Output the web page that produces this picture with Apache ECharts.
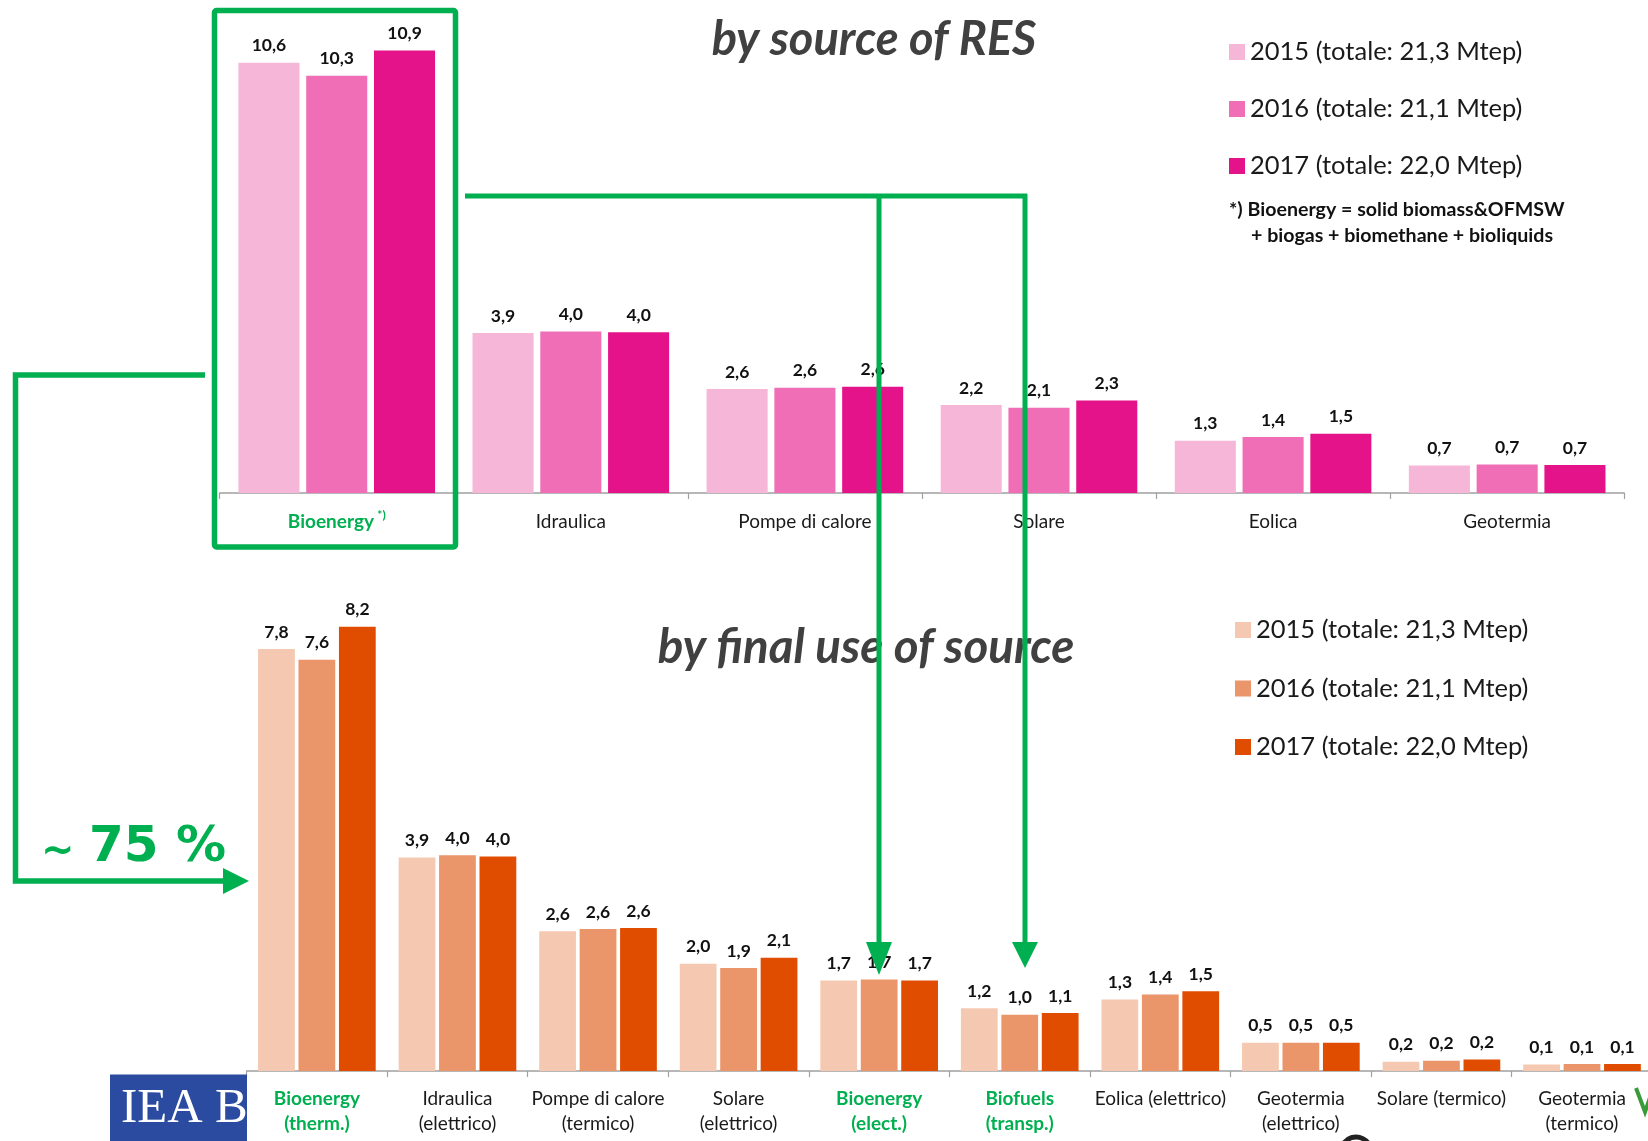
<!DOCTYPE html>
<html><head><meta charset="utf-8">
<script src="https://cdn.jsdelivr.net/npm/echarts@6/dist/echarts.min.js"></script>
<style>html,body{margin:0;padding:0;background:#fff}#c{width:1648px;height:1141px}</style>
</head><body><div id="c"></div>
<script>
// ---- data (Mtep) ----
const sourceCategories = ['Bioenergy', 'Idraulica', 'Pompe di calore', 'Solare', 'Eolica', 'Geotermia'];
const source2015 = [10.6, 3.94, 2.56, 2.17, 1.29, 0.68];
const source2016 = [10.28, 3.98, 2.59, 2.10, 1.38, 0.70];
const source2017 = [10.9, 3.96, 2.62, 2.28, 1.46, 0.69];

const useCategories = ['Bioenergy\n(therm.)', 'Idraulica\n(elettrico)', 'Pompe di calore\n(termico)', 'Solare\n(elettrico)', 'Bioenergy\n(elect.)', 'Biofuels\n(transp.)', 'Eolica (elettrico)', 'Geotermia\n(elettrico)', 'Solare (termico)', 'Geotermia\n(termico)'];
const use2015 = [7.79, 3.94, 2.58, 1.98, 1.67, 1.16, 1.32, 0.52, 0.17, 0.12];
const use2016 = [7.59, 3.98, 2.62, 1.90, 1.69, 1.04, 1.41, 0.52, 0.19, 0.13];
const use2017 = [8.2, 3.96, 2.64, 2.09, 1.67, 1.07, 1.47, 0.52, 0.21, 0.13];

const yearNames = ['2015 (totale: 21,3 Mtep)', '2016 (totale: 21,1 Mtep)', '2017 (totale: 22,0 Mtep)'];
const greenCategories = ['Bioenergy', 'Bioenergy\n(therm.)', 'Bioenergy\n(elect.)', 'Biofuels\n(transp.)'];

const topTitle = 'by source of RES';
const bottomTitle = 'by final use of source';
const footnote = ['*) Bioenergy = solid biomass&OFMSW', '+ biogas + biomethane + bioliquids'];
const shareText = '75 %';

// ---- styles ----
const pinkColors = ['#F5B6D8', '#EF6EB6', '#E4138A'];
const orangeColors = ['#F5C9B1', '#EB956A', '#E04D01'];
const GREEN = '#00B050';
const FONT = 'Lato';

const fmt = p => p.value.toFixed(1).replace('.', ',');
const valueLabel = {show: true, position: 'top', distance: 8, formatter: fmt, fontFamily: FONT, fontWeight: 'bold', fontSize: 17.5, color: '#111'};

function bar(name, data, color, idx, gap, catGap) {
  return {type: 'bar', name, data, xAxisIndex: idx, yAxisIndex: idx, barGap: gap, barCategoryGap: catGap,
    itemStyle: {color}, label: valueLabel, emphasis: {disabled: true}, silent: true};
}

const axisCommon = {
  axisLine: {lineStyle: {color: '#A0A0A0', width: 1.5}},
  axisTick: {show: true, length: 6, lineStyle: {color: '#A0A0A0', width: 1.2}},
};

const richBase = {
  g: {color: GREEN, fontWeight: 'bold', fontSize: 19, fontFamily: FONT, lineHeight: 25},
  n: {color: '#1a1a1a', fontSize: 19, fontFamily: FONT, lineHeight: 25},
  s: {color: GREEN, fontWeight: 'bold', fontSize: 12, fontFamily: FONT, verticalAlign: 'top', lineHeight: 12}
};

const option = {
  backgroundColor: '#fff',
  animation: false,
  grid: [
    {left: 219.7, top: 5.8, width: 1404.5, height: 487.2, outerBoundsMode: 'none', containLabel: false},
    {left: 246.6, top: 583.4, width: 1405.7, height: 487.6, outerBoundsMode: 'none', containLabel: false}
  ],
  xAxis: [
    Object.assign({type: 'category', gridIndex: 0, data: sourceCategories,
      axisLabel: {interval: 0, margin: 16, rich: richBase,
        formatter: v => greenCategories.includes(v) ? '{g|' + v + '} {s|*)}' : '{n|' + v + '}'}}, axisCommon),
    Object.assign({type: 'category', gridIndex: 1, data: useCategories,
      axisLabel: {interval: 0, margin: 15, rich: richBase,
        formatter: v => v.split('\n').map(l => '{' + (greenCategories.includes(v) ? 'g' : 'n') + '|' + l + '}').join('\n')}}, axisCommon)
  ],
  yAxis: [
    {type: 'value', gridIndex: 0, min: 0, max: 12, show: false},
    {type: 'value', gridIndex: 1, min: 0, max: 9, show: false}
  ],
  legend: [
    {data: yearNames, orient: 'vertical', left: 1224, top: 34, itemWidth: 16, itemHeight: 16, itemGap: 31,
      icon: 'rect', selectedMode: false, formatter: n => n.trim(),
      textStyle: {fontFamily: FONT, fontSize: 25.5, color: '#1a1a1a'}},
    {data: yearNames.map(n => n + ' '), orient: 'vertical', left: 1230, top: 612, itemWidth: 16, itemHeight: 16, itemGap: 32.5,
      icon: 'rect', selectedMode: false, formatter: n => n.trim(),
      textStyle: {fontFamily: FONT, fontSize: 25.5, color: '#1a1a1a'}}
  ],
  series: [
    bar(yearNames[0], source2015, pinkColors[0], 0, '11%', '16%'),
    bar(yearNames[1], source2016, pinkColors[1], 0, '11%', '16%'),
    bar(yearNames[2], source2017, pinkColors[2], 0, '11%', '16%'),
    bar(yearNames[0] + ' ', use2015, orangeColors[0], 1, '10%', '16.3%'),
    bar(yearNames[1] + ' ', use2016, orangeColors[1], 1, '10%', '16.3%'),
    bar(yearNames[2] + ' ', use2017, orangeColors[2], 1, '10%', '16.3%')
  ],
  graphic: [
    {type: 'text', x: 874, y: 40, z: 50, style: {text: topTitle, align: 'center', verticalAlign: 'middle', font: 'italic bold 47px Lato', fill: '#404040'}},
    {type: 'text', x: 866, y: 648, z: 50, style: {text: bottomTitle, align: 'center', verticalAlign: 'middle', font: 'italic bold 47.5px Lato', fill: '#404040'}},
    {type: 'text', x: 1229, y: 210, z: 50, style: {text: footnote[0], align: 'left', verticalAlign: 'middle', font: 'bold 19.6px Lato', fill: '#111'}},
    {type: 'text', x: 1251, y: 236, z: 50, style: {text: footnote[1], align: 'left', verticalAlign: 'middle', font: 'bold 19.6px Lato', fill: '#111'}},
    // logo fragments
    {type: 'rect', z: 1, shape: {x: 110, y: 1074.6, width: 137, height: 67}, style: {fill: '#2A4BA0'}},
    {type: 'text', x: 121, y: 1109.5, z: 2, style: {text: 'IEA B', align: 'left', verticalAlign: 'middle', font: '49px "Liberation Serif"', fill: '#fff'}},
    {type: 'polyline', z: 2, shape: {points: [[1636, 1088], [1645, 1112], [1652, 1092]]}, style: {stroke: '#3A9A3A', lineWidth: 4, fill: null}},
    {type: 'arc', z: 2, shape: {cx: 1356, cy: 1152, r: 15, startAngle: Math.PI * 1.15, endAngle: Math.PI * 1.85}, style: {stroke: '#222', lineWidth: 5, fill: null}},
    // green annotations
    {type: 'rect', z: 100, shape: {x: 214.5, y: 10.5, width: 241, height: 536.5, r: 2}, style: {fill: 'none', stroke: GREEN, lineWidth: 5.5}},
    {type: 'polyline', z: 100, shape: {points: [[465, 196], [1027, 196]]}, style: {stroke: GREEN, lineWidth: 5, fill: null}},
    {type: 'polyline', z: 100, shape: {points: [[879, 194], [879, 944]]}, style: {stroke: GREEN, lineWidth: 5, fill: null}},
    {type: 'polygon', z: 100, shape: {points: [[866, 942], [892, 942], [879, 975]]}, style: {fill: GREEN}},
    {type: 'polyline', z: 100, shape: {points: [[1025, 194], [1025, 944]]}, style: {stroke: GREEN, lineWidth: 5, fill: null}},
    {type: 'polygon', z: 100, shape: {points: [[1012, 942], [1038, 942], [1025, 968]]}, style: {fill: GREEN}},
    {type: 'polyline', z: 100, shape: {points: [[205, 375], [15.5, 375], [15.5, 881], [225, 881]]}, style: {stroke: GREEN, lineWidth: 5.5, fill: null, lineJoin: 'miter'}},
    {type: 'polygon', z: 100, shape: {points: [[223, 868], [223, 894], [249, 881]]}, style: {fill: GREEN}},
    {type: 'text', x: 41, y: 853, z: 100, style: {text: '~', align: 'left', verticalAlign: 'middle', font: 'bold 40px "DejaVu Sans"', fill: GREEN}},
    {type: 'text', x: 89, y: 848, z: 100, style: {text: shareText, align: 'left', verticalAlign: 'middle', font: 'bold 50px "DejaVu Sans"', fill: GREEN}}
  ]
};

const chart = echarts.init(document.getElementById('c'), null, {renderer: 'canvas'});
chart.setOption(option);
</script>
</body></html>
